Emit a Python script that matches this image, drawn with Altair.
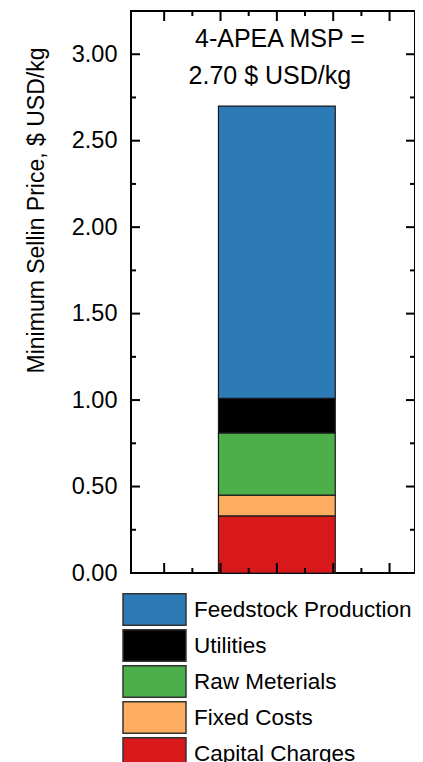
import altair as alt
import pandas as pd

# ---- data ----
categories = ["Capital Charges", "Fixed Costs", "Raw Meterials", "Utilities", "Feedstock Production"]
values = [0.33, 0.12, 0.36, 0.20, 1.69]
stack_rank = [1, 2, 3, 4, 5]
legend_order = ["Feedstock Production", "Utilities", "Raw Meterials", "Fixed Costs", "Capital Charges"]
legend_colors = ["#2c7bb6", "#000000", "#4daf4a", "#fdae61", "#d7191c"]

y_major = [0.0, 0.5, 1.0, 1.5, 2.0, 2.5, 3.0]
y_minor = [0.25, 0.75, 1.25, 1.75, 2.25, 2.75]
x_major = [-2, -1, 0, 1, 2]
x_minor = [-1.5, -0.5, 0.5, 1.5]

note_lines = ["4-APEA MSP =", "2.70 $ USD/kg"]
note_y = [3.04, 2.83]

FONT = "Liberation Sans"
W, H = 284, 562
PX_PER_X = 58.4
XDOM = [-2.5, -2.5 + W / PX_PER_X]
YDOM = [0, 3.25]
BAR_W = 2 * PX_PER_X

xs = alt.Scale(domain=XDOM, nice=False, zero=False)
ys = alt.Scale(domain=YDOM, nice=False, zero=False)

y_axis = alt.Axis(title="Minimum Sellin Price, $ USD/kg", values=y_major, format=".2f",
                  ticks=False, domain=False, grid=False, labelPadding=14,
                  labelFontSize=23.5, labelFont=FONT, labelColor="black",
                  titleFont=FONT, titleFontSize=23, titleFontWeight="normal",
                  titleColor="black", titleAngle=270, titleAlign="center",
                  titleBaseline="alphabetic", titleX=-87.5, titleY=199)

bars_df = pd.DataFrame({"cat": categories, "val": values, "rank": stack_rank, "pos": [0] * len(categories)})

bars = alt.Chart(bars_df).mark_bar(width=BAR_W, stroke="#1a1a1a", strokeWidth=1.2).encode(
    x=alt.X("pos:Q", scale=xs, axis=None),
    y=alt.Y("sum(val):Q", scale=ys, stack="zero", axis=y_axis),
    color=alt.Color("cat:N", scale=alt.Scale(domain=legend_order, range=legend_colors),
                    legend=alt.Legend(orient="none", legendX=-8, legendY=582, title=None,
                                      symbolType="M-2,-1H2V1H-2Z", symbolSize=992,
                                      symbolStrokeColor="#333333", symbolStrokeWidth=1.5,
                                      symbolOpacity=1, symbolOffset=15,
                                      labelFontSize=22.5, labelFont=FONT,
                                      labelColor="black", labelOffset=23, rowPadding=-5,
                                      labelLimit=400)),
    order=alt.Order("rank:Q", sort="ascending"),
)

def yticks(vals, length):
    df = pd.DataFrame({"v": vals})
    left = alt.Chart(df).mark_rule(color="black", strokeWidth=2).encode(
        y=alt.Y("v:Q", scale=ys, axis=y_axis), x=alt.value(0), x2=alt.value(length))
    right = alt.Chart(df).mark_rule(color="black", strokeWidth=2).encode(
        y=alt.Y("v:Q", scale=ys, axis=y_axis), x=alt.value(W - length), x2=alt.value(W))
    return left + right

def xticks(vals, length):
    df = pd.DataFrame({"v": vals})
    top = alt.Chart(df).mark_rule(color="black", strokeWidth=2).encode(
        x=alt.X("v:Q", scale=xs, axis=None), y=alt.value(0), y2=alt.value(length))
    bot = alt.Chart(df).mark_rule(color="black", strokeWidth=2).encode(
        x=alt.X("v:Q", scale=xs, axis=None), y=alt.value(H - length), y2=alt.value(H))
    return top + bot

note_df = pd.DataFrame({"t": note_lines, "y": note_y, "x": [0, 0]})
note1 = alt.Chart(note_df.iloc[[0]]).mark_text(font=FONT, fontSize=25, color="black",
                                               align="center", baseline="alphabetic", dx=3).encode(
    x=alt.X("x:Q", scale=xs, axis=None), y=alt.Y("y:Q", scale=ys, axis=y_axis), text="t:N")
note2 = alt.Chart(note_df.iloc[[1]]).mark_text(font=FONT, fontSize=25, color="black",
                                               align="center", baseline="alphabetic", dx=-7).encode(
    x=alt.X("x:Q", scale=xs, axis=None), y=alt.Y("y:Q", scale=ys, axis=y_axis), text="t:N")

chart = alt.layer(
    bars,
    yticks(y_major, 9), yticks(y_minor, 5),
    xticks(x_major, 10), xticks(x_minor, 5),
    note1, note2,
).properties(
    width=W, height=H, background="white",
    autosize=alt.AutoSizeParams(type="none"),
    padding={"left": 123, "top": 3, "right": 0, "bottom": 189},
).configure_view(stroke="black", strokeWidth=2)

chart.save("out.html", embed_options={"renderer": "svg", "actions": False})
